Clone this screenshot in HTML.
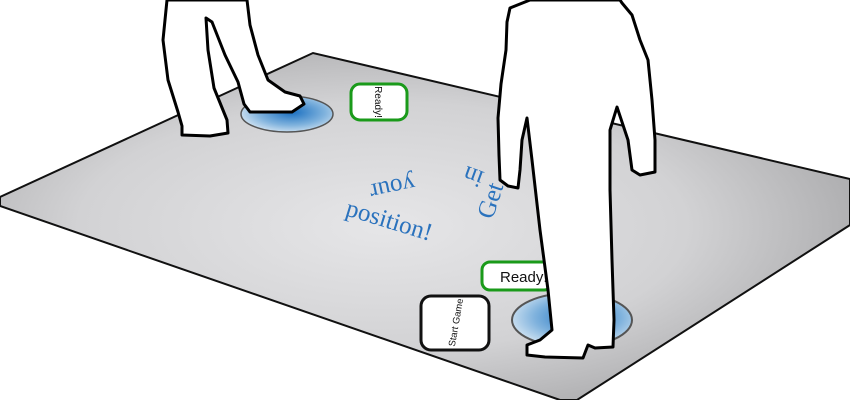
<!DOCTYPE html>
<html><head><meta charset="utf-8"><style>
html,body{margin:0;padding:0;background:#fff;width:850px;height:400px;overflow:hidden}
svg{display:block}
.msg{font-family:"Liberation Serif",serif;fill:#2a72bd;font-size:25px}
.btn{font-family:"Liberation Sans",sans-serif;fill:#111}
</style></head><body>
<svg width="850" height="400" viewBox="0 0 850 400">
<defs>
<radialGradient id="floorg" cx="0.45" cy="0.5" r="0.65">
<stop offset="0" stop-color="#e6e6e8"/><stop offset="0.55" stop-color="#d2d2d4"/><stop offset="1" stop-color="#a0a0a2"/>
</radialGradient>
<radialGradient id="spot" cx="0.55" cy="0.45" r="0.6">
<stop offset="0" stop-color="#1a6fc0"/><stop offset="0.6" stop-color="#7fb2dd"/><stop offset="1" stop-color="#d6e6f3"/>
</radialGradient>
</defs>
<polygon points="0,197 313,53 850,179 850,225 577,400 560,400 0,206" fill="url(#floorg)" stroke="#111" stroke-width="2"/>
<ellipse cx="287" cy="114" rx="46" ry="18" fill="url(#spot)" stroke="#555" stroke-width="1.5"/>
<ellipse cx="572" cy="320" rx="60" ry="27" fill="url(#spot)" stroke="#555" stroke-width="2"/>
<g>
<rect x="351" y="84" width="56" height="36" rx="9" fill="#fff" stroke="#1a9a1a" stroke-width="3"/>
<text class="btn" font-size="10" transform="translate(375,102) rotate(90)" text-anchor="middle">Ready!</text>
</g>
<g>
<rect x="482" y="262" width="70" height="28" rx="8" fill="#fff" stroke="#1a9a1a" stroke-width="3"/>
<text class="btn" x="500" y="282" font-size="15">Ready!</text>
</g>
<g>
<rect x="421" y="296" width="68" height="54" rx="10" fill="#fff" stroke="#111" stroke-width="3"/>
<text class="btn" font-size="9.5" transform="translate(459,323) rotate(-80)" text-anchor="middle">Start Game</text>
</g>
<g>
<text class="msg" transform="translate(391,180) rotate(168)" text-anchor="middle">your</text>
<text class="msg" transform="translate(476,169) rotate(200)" text-anchor="middle">in</text>
<text class="msg" transform="translate(498,203) rotate(-72)" text-anchor="middle">Get</text>
<text class="msg" transform="translate(387,228) rotate(17)" text-anchor="middle">position!</text>
</g>
<path fill="#fff" stroke="#000" stroke-width="3" stroke-linejoin="round"
d="M167,0 L163,40 L168,80 L178,112 L182,126 L182,135 L210,136 L228,133 L227,120 L214,88 L208,50 L206,18 L212,22 L225,55 L238,82 L244,104 L250,112 L292,112 L304,104 L300,96 L285,92 L268,80 L258,55 L250,25 L247,0 Z"/>
<path fill="#fff" stroke="#000" stroke-width="3" stroke-linejoin="round"
d="M530,0 L510,8 L507,22 L506,50 L501,84 L498,118 L499,155 L500,180 L508,186 L518,188 L520,170 L522,140 L527,118 L532,160 L540,230 L548,290 L552,330 L540,340 L527,345 L527,355 L545,357 L583,358 L588,345 L595,348 L613,347 L614,320 L612,260 L610,190 L610,130 L617,107 L628,140 L632,170 L640,175 L655,172 L655,140 L652,100 L648,60 L640,40 L632,15 L622,3 L620,0 Z"/>
</svg>
</body></html>
